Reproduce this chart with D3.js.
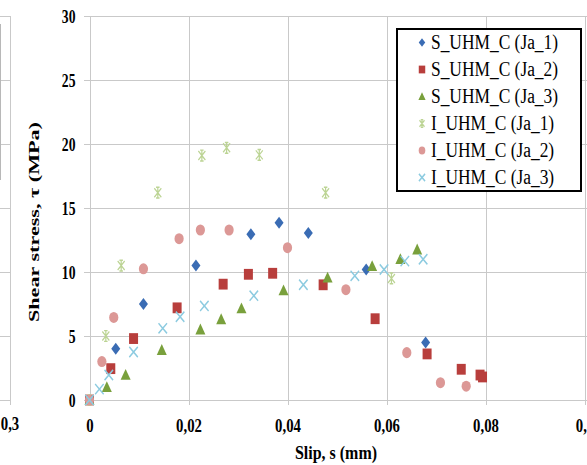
<!DOCTYPE html>
<html>
<head>
<meta charset="utf-8">
<script src="https://cdn.jsdelivr.net/npm/d3@7"></script>
<style>
  html, body { margin: 0; padding: 0; background: #fff; }
  svg { display: block; }
  text { font-family: "Liberation Serif", "Times New Roman", serif; fill: #000; }
</style>
</head>
<body>
<svg id="chart" width="587" height="465"></svg>
<script>
// Slip s (mm) and shear stress τ (MPa) pairs for each specimen
const sUhmJa1 = [[0,0],[0.0053,4.0],[0.0109,7.5],[0.0215,10.5],[0.0326,12.95],[0.0383,13.85],[0.0442,13.05],[0.0559,10.2],[0.0679,4.5]];
const sUhmJa2 = [[0,0],[0.0043,2.45],[0.0089,4.8],[0.0177,7.2],[0.0270,9.05],[0.0321,9.82],[0.0370,9.9],[0.0472,9.0],[0.0577,6.35],[0.0682,3.6],[0.0751,2.4],[0.0789,1.95],[0.0794,1.8]];
const sUhmJa3 = [[0,0],[0.0035,1.0],[0.0073,1.95],[0.0146,3.9],[0.0224,5.5],[0.0266,6.3],[0.0307,7.15],[0.0392,8.55],[0.0481,9.55],[0.0571,10.45],[0.0628,11.0],[0.0662,11.75]];
const iUhmJa1 = [[0,0],[0.0033,5.0],[0.0064,10.5],[0.0138,16.2],[0.0227,19.1],[0.0277,19.7],[0.0343,19.15],[0.0477,16.2],[0.0610,9.5]];
const iUhmJa2 = [[0,0],[0.0025,3.0],[0.0049,6.45],[0.0109,10.25],[0.0181,12.6],[0.0224,13.28],[0.0282,13.28],[0.0400,11.9],[0.0518,8.62],[0.0641,3.7],[0.0709,1.35],[0.0761,1.08]];
const iUhmJa3 = [[0,0],[0.0020,0.85],[0.0039,1.95],[0.0089,3.75],[0.0148,5.6],[0.0183,6.5],[0.0232,7.35],[0.0332,8.15],[0.0432,9.0],[0.0536,9.7],[0.0595,10.2],[0.0637,10.85],[0.0674,11.0]];

const seriesNames = ["S_UHM_C (Ja_1)","S_UHM_C (Ja_2)","S_UHM_C (Ja_3)","I_UHM_C (Ja_1)","I_UHM_C (Ja_2)","I_UHM_C (Ja_3)"];
const seriesData = [sUhmJa1, sUhmJa2, sUhmJa3, iUhmJa1, iUhmJa2, iUhmJa3];
const seriesColors = ["#3a6cb4","#b83e3c","#79a03c","#bcd494","#dc9896","#8ccbe0"];
const seriesShapes = ["diamond","square","triangle","star","circle","cross"];

const xTicks = [0, 0.02, 0.04, 0.06, 0.08, 0.1];
const xTickLabels = ["0","0,02","0,04","0,06","0,08","0,1"];
const yTicks = [0, 5, 10, 15, 20, 25, 30];
const neighbourTickLabels = ["0,3"];

const svg = d3.select("#chart");
const grid = "#c9c9c9";

const x = d3.scaleLinear().domain([0, 0.1]).range([89.5, 584.5]);
const y = d3.scaleLinear().domain([0, 30]).range([400, 16]);

// ---- edge of the neighbouring panel on the left ----
const left = svg.append("g");
left.selectAll("line.h").data(yTicks).join("line")
  .attr("x1", 0).attr("x2", 10.5)
  .attr("y1", d => Math.round(y(d)) + 0.5).attr("y2", d => Math.round(y(d)) + 0.5)
  .attr("stroke", grid);
left.append("line").attr("x1", 10.5).attr("x2", 10.5).attr("y1", y(30)).attr("y2", 405)
  .attr("stroke", grid);
left.append("line").attr("x1", 0.5).attr("x2", 0.5).attr("y1", 24).attr("y2", 180)
  .attr("stroke", "#b8b8b8");
left.selectAll("text").data(neighbourTickLabels).join("text")
  .attr("transform", "translate(10,430) scale(0.82,1)")
  .attr("text-anchor", "middle").attr("font-weight", "bold").attr("font-size", 18)
  .text(d => d);

// ---- grid ----
const g = svg.append("g");
g.selectAll("line.v").data(xTicks).join("line")
  .attr("x1", d => Math.round(x(d)) + 0.5).attr("x2", d => Math.round(x(d)) + 0.5)
  .attr("y1", y(30)).attr("y2", 405)
  .attr("stroke", grid);
g.selectAll("line.hz").data(yTicks).join("line")
  .attr("x1", 84).attr("x2", 587)
  .attr("y1", d => Math.round(y(d)) + 0.5).attr("y2", d => Math.round(y(d)) + 0.5)
  .attr("stroke", grid);

// ---- axes (labels only; grid drawn above) ----
const yAxis = svg.append("g").attr("transform", `translate(${x(0)},0)`)
  .call(d3.axisLeft(y).tickValues(yTicks).tickSize(0).tickFormat(d3.format("d")));
yAxis.select(".domain").remove();
yAxis.selectAll("text")
  .attr("x", null).attr("dy", null)
  .attr("transform", "translate(-14,6.5) scale(0.72,1)")
  .attr("font-family", null).attr("font-size", 19).attr("font-weight", "bold")
  .attr("fill", "#000");

const xAxis = svg.append("g").attr("transform", `translate(0,${y(0)})`)
  .call(d3.axisBottom(x).tickValues(xTicks).tickSize(0).tickFormat((d, i) => xTickLabels[i]));
xAxis.select(".domain").remove();
xAxis.selectAll("text")
  .attr("y", null).attr("dy", null)
  .attr("transform", "translate(0,31.5) scale(0.82,1)")
  .attr("font-family", null).attr("font-size", 18).attr("font-weight", "bold")
  .attr("fill", "#000");

// ---- axis titles ----
svg.append("text")
  .attr("transform", "translate(39,222) rotate(-90)")
  .attr("text-anchor", "middle").attr("font-weight", "bold").attr("font-size", 15)
  .attr("textLength", 200).attr("lengthAdjust", "spacingAndGlyphs")
  .text("Shear stress, τ (MPa)");
svg.append("text")
  .attr("x", 336).attr("y", 459)
  .attr("text-anchor", "middle").attr("font-weight", "bold").attr("font-size", 19)
  .attr("textLength", 82).attr("lengthAdjust", "spacingAndGlyphs")
  .text("Slip, s (mm)");

// ---- markers ----
function drawMarker(sel, shape, color, r) {
  if (shape === "diamond") {
    sel.append("path").attr("d", `M0,${-r}L${r*0.9},0L0,${r}L${-r*0.9},0Z`).attr("fill", color);
  } else if (shape === "square") {
    sel.append("rect").attr("x", -r*0.9).attr("y", -r*0.9).attr("width", r*1.8).attr("height", r*1.8).attr("fill", color);
  } else if (shape === "triangle") {
    sel.append("path").attr("d", `M0,${-r}L${r},${r*0.8}L${-r},${r*0.8}Z`).attr("fill", color);
  } else if (shape === "circle") {
    sel.append("circle").attr("r", r*0.92).attr("fill", color);
  } else if (shape === "cross") {
    sel.append("path").attr("d", `M${-r*0.85},${-r*0.85}L${r*0.85},${r*0.85}M${-r*0.85},${r*0.85}L${r*0.85},${-r*0.85}`)
      .attr("stroke", color).attr("stroke-width", 1.4).attr("fill", "none");
  } else if (shape === "star") {
    // x with a vertical stroke (asterisk-like marker)
    sel.append("path").attr("d", `M${-r*0.7},${-r*0.75}L${r*0.7},${r*0.75}M${-r*0.7},${r*0.75}L${r*0.7},${-r*0.75}M0,${-r*0.9}L0,${r*0.9}M${-r*0.35},${-r*0.9}L${r*0.35},${-r*0.9}M${-r*0.35},${r*0.9}L${r*0.35},${r*0.9}`)
      .attr("stroke", color).attr("stroke-width", 1.2).attr("fill", "none");
  }
}

seriesData.forEach((data, i) => {
  const layer = svg.append("g");
  layer.selectAll("g").data(data).join("g")
    .attr("transform", d => `translate(${x(d[0])},${y(d[1])}) scale(1,1.2)`)
    .each(function () { drawMarker(d3.select(this), seriesShapes[i], seriesColors[i], 5); });
});

// ---- legend ----
const legend = svg.append("g");
legend.append("rect").attr("x", 397).attr("y", 29).attr("width", 184).attr("height", 162)
  .attr("fill", "#fff").attr("stroke", "#000").attr("stroke-width", 2);
const rows = legend.selectAll("g.row").data(seriesNames).join("g")
  .attr("transform", (d, i) => `translate(0,${42.5 + i * 27})`);
rows.each(function (d, i) {
  const m = d3.select(this).append("g").attr("transform", "translate(422,0) scale(1,1.2)");
  drawMarker(m, seriesShapes[i], seriesColors[i], 3.6);
});
rows.append("text")
  .attr("transform", "translate(431,6.5) scale(0.87,1)")
  .attr("font-size", 20)
  .text(d => d);
</script>
</body>
</html>
